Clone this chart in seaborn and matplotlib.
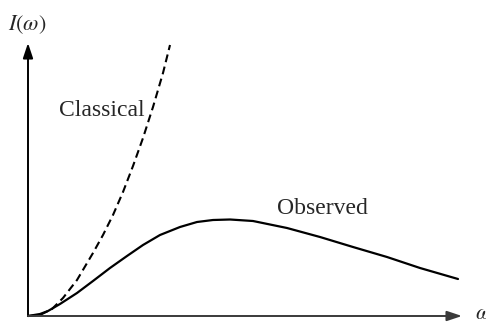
import matplotlib
matplotlib.use("Agg")
import matplotlib.pyplot as plt
import seaborn as sns
import pandas as pd

# values (x: frequency, y: intensity, arbitrary units)
obs_x = [0, 12, 20, 32, 49, 65, 82, 99, 115, 132, 152, 169, 185, 202, 225,
         259, 292, 325, 359, 392, 430]
obs_y = [0, 2, 5, 12, 23, 35, 48, 60, 71, 81, 89, 94, 96, 96.5, 95,
         88, 79, 69, 59, 48, 37]
cls_x = [0, 12, 24, 35, 49, 65, 75, 85, 95, 105, 115, 125, 135, 142]
cls_y = [0, 1, 7, 18, 36, 63, 81, 101, 124, 150, 178, 209, 243, 271]

sns.set_style("white")
plt.rcParams["font.family"] = ["Liberation Serif", "DejaVu Serif"]
plt.rcParams["mathtext.fontset"] = "stix"

fig = plt.figure(figsize=(4.86, 3.22), dpi=100)
ax = fig.add_axes([0, 0, 1, 1])
ax.set_xlim(-28, 458)
ax.set_ylim(-6, 316)
ax.axis("off")

df_obs = pd.DataFrame({"w": obs_x, "I": obs_y})
df_cls = pd.DataFrame({"w": cls_x, "I": cls_y})
sns.lineplot(data=df_obs, x="w", y="I", ax=ax, color="black", lw=1.6, sort=False)
sns.lineplot(data=df_cls, x="w", y="I", ax=ax, color="black", lw=1.5,
             linestyle=(0, (3.8, 2.2)), sort=False)

# axes arrows
ax.annotate("", xy=(0, 273), xytext=(0, 0),
            arrowprops=dict(arrowstyle="-|>,head_length=0.9,head_width=0.3",
                            color="black", lw=1.4, shrinkA=0, shrinkB=0))
ax.annotate("", xy=(434, 0), xytext=(0, 0),
            arrowprops=dict(arrowstyle="-|>,head_length=0.9,head_width=0.3",
                            color="#3a3a3a", lw=1.4, shrinkA=0, shrinkB=0))

ax.text(-1, 286, r"$I(\omega)$", fontsize=16, ha="center", va="baseline")
ax.text(447, -3, r"$\omega$", fontsize=16, ha="left", va="baseline")
ax.text(74, 200, "Classical", fontsize=17, ha="center", va="baseline")
ax.text(294, 102, "Observed", fontsize=17, ha="center", va="baseline")

fig.savefig("out.png", dpi=100)
